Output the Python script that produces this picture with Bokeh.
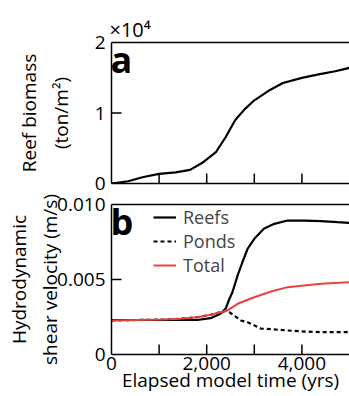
from bokeh.plotting import figure
from bokeh.layouts import column
from bokeh.models import (FixedTicker, LinearAxis, Label, Legend, LegendItem, Range1d)
from bokeh.embed import file_html
from bokeh.resources import INLINE
import math

# ---- data ----
biomass_t = [0, 350, 650, 1000, 1350, 1650, 1900, 2200, 2400, 2600, 2800, 3000,
             3300, 3600, 4000, 4350, 4700, 5000]
biomass = [0, 320, 890, 1370, 1590, 1930, 2900, 4500, 6600, 9000, 10550, 11800,
           13150, 14250, 14980, 15470, 15920, 16400]

reefs_t = [0, 1000, 1800, 2080, 2290, 2400, 2470, 2540, 2650, 2750, 2860, 3000,
           3200, 3420, 3700, 4050, 4400, 4750, 5000]
reefs_v = [0.0023, 0.0023, 0.0023, 0.00242, 0.00271, 0.00307, 0.00365, 0.00415,
           0.00527, 0.00615, 0.00705, 0.00771, 0.00838, 0.00871, 0.00893, 0.00893,
           0.00889, 0.00882, 0.00878]

ponds_t = [0, 1100, 1450, 1810, 2080, 2290, 2430, 2575, 2716, 2857, 3137, 3417,
           3700, 4050, 4400, 5000]
ponds_v = [0.00227, 0.00233, 0.00238, 0.00249, 0.00265, 0.00282, 0.00293, 0.0026,
           0.00227, 0.00215, 0.00173, 0.00167, 0.0016, 0.00153, 0.00149, 0.00149]

total_t = [0, 1100, 1450, 1810, 2080, 2290, 2430, 2650, 3000, 3350, 3700, 4050,
           4400, 5000]
total_v = [0.00227, 0.00233, 0.00238, 0.00249, 0.00265, 0.00282, 0.00293, 0.00338,
           0.00382, 0.0042, 0.00449, 0.0046, 0.00471, 0.00482]

x_ticks = [0, 1000, 2000, 3000, 4000, 5000]
x_tick_labels = {0: "0", 1000: "", 2000: "2,000", 3000: "", 4000: "4,000", 5000: ""}
a_y_ticks = [0, 10000, 20000]
a_y_labels = {0: "0", 10000: "1", 20000: "2"}
b_y_ticks = [0, 0.005, 0.01]
b_y_labels = {0: "0", 0.005: "0.005", 0.01: "0.010"}

FONT = "Open Sans"
FS = "19px"
W = 349


def style_axis(ax):
    ax.axis_line_color = "black"
    ax.axis_line_width = 1.5
    ax.major_tick_line_color = "black"
    ax.major_tick_line_width = 1.5
    ax.major_tick_in = 0
    ax.major_tick_out = 0
    ax.minor_tick_in = 0
    ax.minor_tick_out = 0
    ax.major_label_text_font = FONT
    ax.major_label_text_font_size = FS
    ax.major_label_text_color = "black"
    ax.axis_label_text_font = FONT
    ax.axis_label_text_font_size = FS
    ax.axis_label_text_font_style = "normal"
    ax.axis_label_text_color = "black"


def top_line(p):
    ax = LinearAxis(axis_line_color="black", axis_line_width=1.5,
                    major_tick_in=0, major_tick_out=0, minor_tick_in=0, minor_tick_out=0,
                    major_label_text_font_size="0px", ticker=FixedTicker(ticks=[]))
    p.add_layout(ax, "above")


def inward_ticks(p, xt, yt, y0, x0):
    # tick marks centred on the axis lines; the half outside the frame is clipped
    p.scatter(xt, [y0] * len(xt), marker="dash", size=20, angle=math.pi / 2,
              line_color="black", line_width=1.5)
    p.scatter([x0] * len(yt), yt, marker="dash", size=20,
              line_color="black", line_width=1.5)


# ---- panel a ----
p1 = figure(width=W, height=190, x_range=Range1d(0, 5000), y_range=Range1d(0, 20000),
            output_backend="svg", toolbar_location=None,
            min_border_left=111, min_border_right=0, min_border_top=42, min_border_bottom=7)
p1.grid.visible = False
p1.outline_line_color = None
p1.line(biomass_t, biomass, line_color="black", line_width=2.2)
inward_ticks(p1, x_ticks[1:-1], a_y_ticks[1:-1], 0, 0)

style_axis(p1.xaxis[0])
p1.xaxis[0].ticker = FixedTicker(ticks=x_ticks)
p1.xaxis[0].major_label_text_font_size = "0px"
p1.xaxis[0].major_label_standoff = 0
style_axis(p1.yaxis[0])
p1.yaxis[0].ticker = FixedTicker(ticks=a_y_ticks)
p1.yaxis[0].major_label_overrides = a_y_labels
p1.yaxis[0].major_label_standoff = 6
p1.yaxis[0].axis_label = "Reef biomass\n(ton/m²)"
p1.yaxis[0].axis_label_standoff = 18
top_line(p1)

p1.title.text = "×10⁴"
p1.title.align = "left"
p1.title.offset = -2
p1.title.standoff = 0
p1.title.text_font = FONT
p1.title.text_font_size = "20px"
p1.title.text_font_style = "normal"
p1.title.text_color = "black"

p1.add_layout(Label(x=0, y=20000, text="a", text_font=FONT, text_font_size="36px",
                    text_font_style="bold", text_color="black", text_baseline="top",
                    x_offset=-1, y_offset=8))

# ---- panel b ----
p2 = figure(width=W, height=206, x_range=Range1d(0, 5000), y_range=Range1d(0, 0.01),
            output_backend="svg", toolbar_location=None,
            min_border_left=111, min_border_right=0, min_border_top=14, min_border_bottom=42)
p2.grid.visible = False
p2.outline_line_color = None
r_reefs = p2.line(reefs_t, reefs_v, line_color="black", line_width=2.2)
r_ponds = p2.line(ponds_t, ponds_v, line_color="black", line_width=2.2, line_dash="4 3")
r_total = p2.line(total_t, total_v, line_color="#e8423f", line_width=2)
inward_ticks(p2, x_ticks[1:-1], b_y_ticks[1:-1], 0, 0)

style_axis(p2.xaxis[0])
p2.xaxis[0].ticker = FixedTicker(ticks=x_ticks)
p2.xaxis[0].major_label_overrides = x_tick_labels
p2.xaxis[0].major_label_standoff = 2
p2.xaxis[0].axis_label = "Elapsed model time (yrs)"
p2.xaxis[0].axis_label_standoff = -6
style_axis(p2.yaxis[0])
p2.yaxis[0].ticker = FixedTicker(ticks=b_y_ticks)
p2.yaxis[0].major_label_overrides = b_y_labels
p2.yaxis[0].major_label_standoff = 6
p2.yaxis[0].axis_label = "Hydrodynamic\nshear velocity (m/s)"
p2.yaxis[0].axis_label_standoff = -9
top_line(p2)

p2.add_layout(Label(x=0, y=0.01, text="b", text_font=FONT, text_font_size="36px",
                    text_font_style="bold", text_color="black", text_baseline="top",
                    x_offset=-1, y_offset=8))

legend = Legend(items=[LegendItem(label="Reefs", renderers=[r_reefs]),
                       LegendItem(label="Ponds", renderers=[r_ponds]),
                       LegendItem(label="Total", renderers=[r_total])],
                location=(42, 77), border_line_color=None, background_fill_alpha=0,
                label_text_font=FONT, label_text_font_size="18px",
                label_text_line_height=1.0, glyph_width=23,
                glyph_height=20, label_height=20, label_standoff=7, spacing=0,
                padding=0, margin=0)
p2.add_layout(legend, "center")

layout = column(p1, p2, spacing=0)
open("out.html", "w").write(file_html(layout, INLINE))
